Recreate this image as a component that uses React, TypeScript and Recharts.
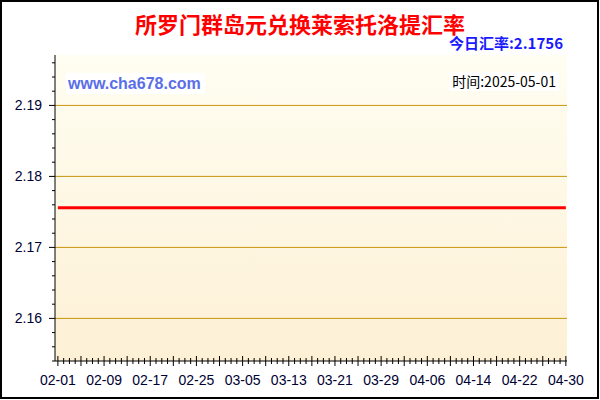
import React from "react";
import { LineChart, Line, XAxis, YAxis, CartesianGrid, ReferenceLine } from "recharts";

// daily rate, 2025-02-01 .. 2025-04-30
const rates = [
  2.1756, 2.1756, 2.1756, 2.1756, 2.1756, 2.1756, 2.1756, 2.1756, 2.1756, 2.1756,
  2.1756, 2.1756, 2.1756, 2.1756, 2.1756, 2.1756, 2.1756, 2.1756, 2.1756, 2.1756,
  2.1756, 2.1756, 2.1756, 2.1756, 2.1756, 2.1756, 2.1756, 2.1756, 2.1756, 2.1756,
  2.1756, 2.1756, 2.1756, 2.1756, 2.1756, 2.1756, 2.1756, 2.1756, 2.1756, 2.1756,
  2.1756, 2.1756, 2.1756, 2.1756, 2.1756, 2.1756, 2.1756, 2.1756, 2.1756, 2.1756,
  2.1756, 2.1756, 2.1756, 2.1756, 2.1756, 2.1756, 2.1756, 2.1756, 2.1756, 2.1756,
  2.1756, 2.1756, 2.1756, 2.1756, 2.1756, 2.1756, 2.1756, 2.1756, 2.1756, 2.1756,
  2.1756, 2.1756, 2.1756, 2.1756, 2.1756, 2.1756, 2.1756, 2.1756, 2.1756, 2.1756,
  2.1756, 2.1756, 2.1756, 2.1756, 2.1756, 2.1756, 2.1756, 2.1756, 2.1756,
];

const xLabels = ["02-01", "02-09", "02-17", "02-25", "03-05", "03-13", "03-21", "03-29", "04-06", "04-14", "04-22", "04-30"];

const yTicks = [
  2.154, 2.156, 2.158, 2.16, 2.162, 2.164, 2.166, 2.168, 2.17, 2.172, 2.174,
  2.176, 2.178, 2.18, 2.182, 2.184, 2.186, 2.188, 2.19, 2.192, 2.194, 2.196,
];
const gridValues = [2.16, 2.17, 2.18, 2.19];

const title = "所罗门群岛元兑换莱索托洛提汇率";
const todayRate = "今日汇率:2.1756";
const timeText = "时间:2025-05-01";
const site = "www.cha678.com";

const data = rates.map((rate, day) => ({ day, rate }));
const xTicks = rates.map((_, i) => i);

const LATIN = "'Liberation Sans', Arial, sans-serif";
const CJK = "'Noto Sans CJK SC', 'Liberation Sans', sans-serif";
const LABEL_COLOR = "#000033";

const isMajorY = (v: number) => gridValues.some((g) => Math.abs(g - v) < 1e-6);

const BottomTick = (props: any) => {
  const { x, y, payload } = props;
  const d = payload.value;
  const len = d % 4 === 0 ? 5 : 3;
  const label = d % 8 === 0 ? xLabels[d / 8] : null;
  return (
    <g>
      <line x1={x} x2={x} y1={y - len} y2={y + len} stroke="#000" />
      {label && (
        <text x={x} y={y + 24} textAnchor="middle" fontSize={14} fontFamily={LATIN} fill={LABEL_COLOR}>
          {label}
        </text>
      )}
    </g>
  );
};

const TopTick = (props: any) => {
  const { x, y, payload } = props;
  const len = payload.value % 4 === 0 ? 5 : 3;
  return <line x1={x} x2={x} y1={y} y2={y + len} stroke="#000" />;
};

const LeftTick = (props: any) => {
  const { x, y, payload } = props;
  const v = payload.value;
  const major = isMajorY(v);
  return (
    <g>
      <line x1={x - (major ? 6 : 3)} x2={x} y1={y} y2={y} stroke="#000" />
      {major && (
        <text x={x - 13} y={y + 5} textAnchor="end" fontSize={14} fontFamily={LATIN} fill={LABEL_COLOR}>
          {v.toFixed(2)}
        </text>
      )}
    </g>
  );
};

const RightTick = (props: any) => {
  const { x, y } = props;
  return <line x1={x - 4} x2={x} y1={y} y2={y} stroke="#000" />;
};

export default function App() {
  return (
    <div style={{ position: "relative", width: 600, height: 400, background: "#fff" }}>
      <style>{"body{margin:0}"}</style>
      <LineChart width={600} height={400} data={data} margin={{ top: 55, right: 33, bottom: 0, left: 0 }}>
        <defs>
          <linearGradient id="plotBg" x1="0" y1="0" x2="0" y2="1">
            <stop offset="0%" stopColor="#fffef2" />
            <stop offset="100%" stopColor="#fdf0d5" />
          </linearGradient>
        </defs>
        <CartesianGrid horizontal={false} vertical={false} fill="url(#plotBg)" />
        <XAxis
          dataKey="day"
          type="number"
          domain={[-0.5, 88.2]}
          ticks={xTicks}
          interval={0}
          height={39}
          tickSize={0}
          tickMargin={0}
          tickLine={false}
          axisLine={{ stroke: "#000" }}
          tick={<BottomTick />}
        />
        <XAxis
          xAxisId="top"
          orientation="top"
          dataKey="day"
          type="number"
          domain={[-0.5, 88.2]}
          ticks={xTicks}
          interval={0}
          height={0}
          tickSize={0}
          tickMargin={0}
          tickLine={false}
          axisLine={{ stroke: "#000" }}
          tick={<TopTick />}
        />
        <YAxis
          type="number"
          domain={[2.154, 2.1971]}
          ticks={yTicks}
          interval={0}
          width={55}
          tickSize={0}
          tickMargin={0}
          tickLine={false}
          axisLine={{ stroke: "#000" }}
          tick={<LeftTick />}
        />
        <YAxis
          yAxisId="right"
          orientation="right"
          type="number"
          domain={[2.154, 2.1971]}
          ticks={yTicks}
          interval={0}
          width={0}
          tickSize={0}
          tickMargin={0}
          tickLine={false}
          axisLine={{ stroke: "#000" }}
          tick={<RightTick />}
        />
        {gridValues.map((g) => (
          <ReferenceLine key={g} y={g} stroke="#c8960c" strokeWidth={1} />
        ))}
        <Line
          dataKey="rate"
          stroke="#ff0000"
          strokeWidth={3}
          dot={false}
          activeDot={false}
          isAnimationActive={false}
        />
      </LineChart>
      <svg width={600} height={400} style={{ position: "absolute", left: 0, top: 0, pointerEvents: "none" }}>
        <rect x={1} y={1} width={597} height={397} fill="none" stroke="#000" strokeWidth={2} />
        <text x={300} y={33} textAnchor="middle" fontSize={22} fontWeight="bold" fontFamily={CJK} fill="#ff0000">
          {title}
        </text>
        <text x={563} y={49} textAnchor="end" fontSize={15} fontWeight="bold" fontFamily={CJK} fill="#1a1aff">
          {todayRate}
        </text>
        <rect x={66} y={73} width={139} height={21} fill="#fff" />
        <text x={68} y={89} fontSize={16} fontWeight="bold" fontFamily={LATIN} fill="#5a6ee8">
          {site}
        </text>
        <rect x={449} y={72} width={110} height={19} fill="#fff" />
        <text x={556} y={87} textAnchor="end" fontSize={14} fontFamily={CJK} fill="#000">
          {timeText}
        </text>
      </svg>
    </div>
  );
}
